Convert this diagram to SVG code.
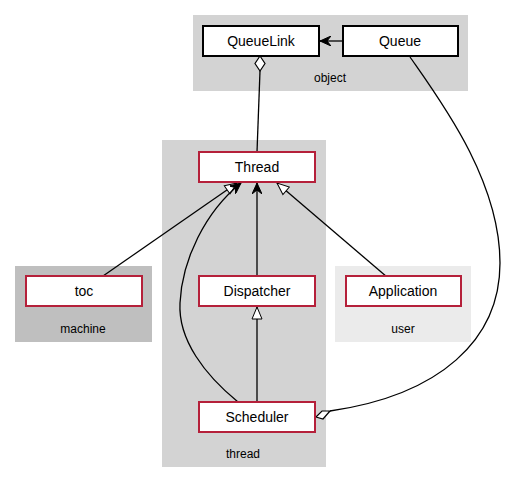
<svg xmlns="http://www.w3.org/2000/svg" width="505" height="483" viewBox="0 0 505 483">
<style>
.node{fill:#fff;stroke-width:2}
.red{stroke:#b5203a}
.blk{stroke:#000}
.t{font-family:"Liberation Sans",Arial,sans-serif;font-size:14px;text-anchor:middle;fill:#000}
.cl{font-family:"Liberation Sans",Arial,sans-serif;font-size:12px;text-anchor:middle;fill:#000}
.e{fill:none;stroke:#000;stroke-width:1.3}
.dm{fill:#fff;stroke:#000;stroke-width:1.2}
</style>
<defs>
<marker id="vee" viewBox="0 0 12 10" refX="11" refY="5" markerWidth="12" markerHeight="10" markerUnits="userSpaceOnUse" orient="auto">
<path d="M0,0 L11,5 L0,10 L4,5 Z" fill="#000" stroke="#000" stroke-width="1"/>
</marker>
<marker id="tri" viewBox="0 0 14 12" refX="13" refY="6" markerWidth="14" markerHeight="12" markerUnits="userSpaceOnUse" orient="auto">
<path d="M1,1 L13,6 L1,11 Z" fill="#fff" stroke="#000" stroke-width="1"/>
</marker>
</defs>
<g id="clusters">
<rect x="193" y="15" width="275" height="76" fill="#d3d3d3"/>
<text class="cl" x="330" y="82">object</text>
<rect x="162" y="140" width="164" height="327" fill="#d3d3d3"/>
<text class="cl" x="243" y="458">thread</text>
<rect x="15" y="266" width="137" height="76" fill="#bfbfbf"/>
<text class="cl" x="83" y="333">machine</text>
<rect x="335" y="266" width="136" height="76" fill="#ebebeb"/>
<text class="cl" x="403" y="333">user</text>
</g>
<g id="connectors">
<path class="e" d="M343,41 L320,41" marker-end="url(#vee)"/>
<path class="e" d="M257,152 L260,71"/>
<path class="e" d="M410,57 C440,100 500,180 500,263 C500,340 440,395 330,411"/>
<path class="e" d="M103,276 L237,183" marker-end="url(#tri)"/>
<path class="e" d="M387,277 L277,183" marker-end="url(#tri)"/>
<path class="e" d="M257,276 L257,183" marker-end="url(#vee)"/>
<path class="e" d="M257,402 L257,307" marker-end="url(#tri)"/>
<path class="e" d="M238,402 C205,375 178,340 180,303 C182,260 205,212 241,183" marker-end="url(#vee)"/>
<path class="dm" d="M260,56 L265,63.5 L260,71 L255,63.5 Z"/>
<path class="dm" d="M316,417 L322,411 L330,411 L323,419 Z"/>
</g>
<g id="QueueLink"><rect class="node blk" x="203" y="26" width="116" height="30"/><text class="t" x="261" y="46">QueueLink</text></g>
<g id="Queue"><rect class="node blk" x="343" y="26" width="115" height="30"/><text class="t" x="400" y="46">Queue</text></g>
<g id="Thread"><rect class="node red" x="199" y="152" width="116" height="30"/><text class="t" x="257" y="172">Thread</text></g>
<g id="toc"><rect class="node red" x="26" y="276" width="116" height="30"/><text class="t" x="84" y="296">toc</text></g>
<g id="Dispatcher"><rect class="node red" x="199" y="276" width="116" height="30"/><text class="t" x="257" y="296">Dispatcher</text></g>
<g id="Application"><rect class="node red" x="346" y="276" width="115" height="30"/><text class="t" x="403" y="296">Application</text></g>
<g id="Scheduler"><rect class="node red" x="199" y="402" width="116" height="30"/><text class="t" x="257" y="422">Scheduler</text></g>
</svg>
